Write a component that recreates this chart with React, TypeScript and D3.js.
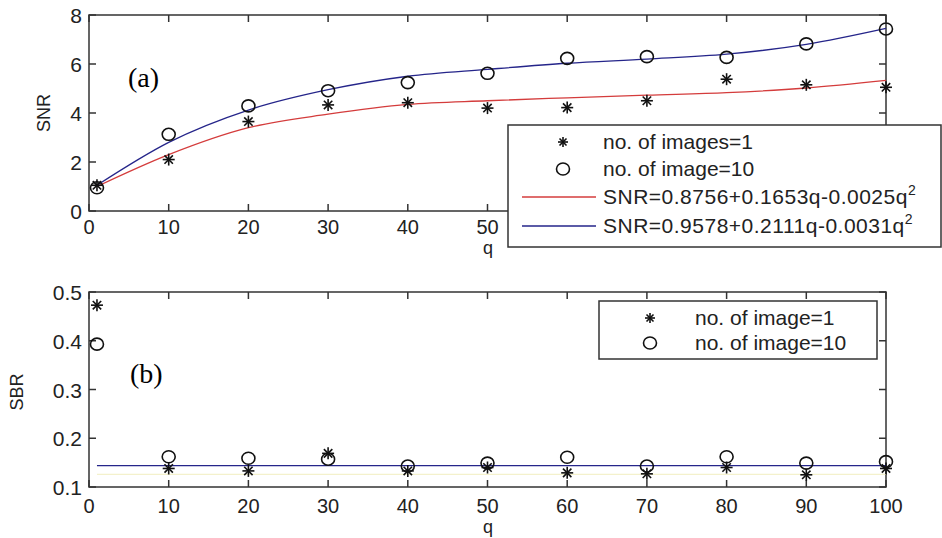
import React from 'react';
import * as d3 from 'd3';

// q values of the samples
const qValues = [1, 10, 20, 30, 40, 50, 60, 70, 80, 90, 100];

// (a) SNR
const snrImages1 = [1.05, 2.1, 3.65, 4.33, 4.42, 4.2, 4.22, 4.5, 5.38, 5.15, 5.05];
const snrImages10 = [0.95, 3.13, 4.29, 4.91, 5.24, 5.62, 6.23, 6.3, 6.27, 6.82, 7.43];
const snrFit1 = [1.0, 2.3, 3.4, 3.95, 4.35, 4.5, 4.62, 4.73, 4.83, 5.02, 5.33];
const snrFit10 = [1.05, 2.8, 4.12, 4.95, 5.5, 5.78, 6.03, 6.2, 6.4, 6.8, 7.45];

// (b) SBR
const sbrImages1 = [0.473, 0.138, 0.133, 0.169, 0.133, 0.14, 0.129, 0.127, 0.14, 0.125, 0.138];
const sbrImages10 = [0.393, 0.162, 0.159, 0.157, 0.143, 0.149, 0.161, 0.143, 0.162, 0.149, 0.152];
const sbrFitQ = [1, 100];
const sbrFit = [0.144, 0.144];
const sbrFaint = [0.126, 0.126];

const xTicks = [0, 10, 20, 30, 40, 50, 60, 70, 80, 90, 100];
const snrTicks = [0, 2, 4, 6, 8];
const sbrTicks = [0.1, 0.2, 0.3, 0.4, 0.5];

const legendA = ['no. of images=1', 'no. of image=10'];
const legendB = ['no. of image=1', 'no. of image=10'];

const FONT = '"Liberation Sans", Arial, sans-serif';
const SERIF = '"Liberation Serif", "Times New Roman", serif';
const AXIS = '#333';
const RED = '#d43c3c';
const BLUE = '#25258a';

const Star = ({ x, y, r = 6 }: { x: number; y: number; r?: number }) => (
  <g stroke="#111" strokeWidth={1.6}>
    <line x1={x - r} y1={y} x2={x + r} y2={y} />
    <line x1={x} y1={y - r} x2={x} y2={y + r} />
    <line x1={x - r * 0.7} y1={y - r * 0.7} x2={x + r * 0.7} y2={y + r * 0.7} />
    <line x1={x - r * 0.7} y1={y + r * 0.7} x2={x + r * 0.7} y2={y - r * 0.7} />
  </g>
);

const Ring = ({ x, y }: { x: number; y: number }) => (
  <ellipse cx={x} cy={y} rx={6.5} ry={6} fill="none" stroke="#111" strokeWidth={1.6} />
);

const left = 89;
const right = 886;

const Frame = ({ x, y, yTicks, fmt }: any) => {
  const [y0, y1] = y.range();
  return (
    <g>
      <rect x={left} y={y1} width={right - left} height={y0 - y1} fill="white" stroke={AXIS} strokeWidth={1.5} />
      {xTicks.map(t => (
        <g key={'x' + t} stroke={AXIS} strokeWidth={1.5}>
          <line x1={x(t)} x2={x(t)} y1={y0} y2={y0 - 7} />
          <line x1={x(t)} x2={x(t)} y1={y1} y2={y1 + 7} />
        </g>
      ))}
      {yTicks.map((t: number) => (
        <g key={'y' + t}>
          <line x1={left} x2={left + 7} y1={y(t)} y2={y(t)} stroke={AXIS} strokeWidth={1.5} />
          <line x1={right} x2={right - 7} y1={y(t)} y2={y(t)} stroke={AXIS} strokeWidth={1.5} />
          <text x={82} y={y(t) + 8} textAnchor="end" fontFamily={FONT} fontSize={21} fill="#222">{fmt(t)}</text>
        </g>
      ))}
    </g>
  );
};

export default function App() {
  const x = d3.scaleLinear().domain([0, 100]).range([left, right]);
  const yA = d3.scaleLinear().domain([0, 8]).range([211, 15]);
  const yB = d3.scaleLinear().domain([0.1, 0.5]).range([487, 292]);

  const lineA = (vals: number[]) =>
    d3.line<number>().x((_, i) => x(qValues[i])).y(v => yA(v)).curve(d3.curveMonotoneX)(vals) || '';
  const lineB = (vals: number[]) =>
    d3.line<number>().x((_, i) => x(sbrFitQ[i])).y(v => yB(v))(vals) || '';

  // legend (a) hides the tick labels from 60 on
  const legendALeft = 508;
  const visibleTopTicks = xTicks.filter(t => x(t) + 12 < legendALeft);

  return (
    <svg width={942} height={538} style={{ position: 'absolute', left: 0, top: 0, background: 'white' }}>
      {/* (a) */}
      <Frame x={x} y={yA} yTicks={snrTicks} fmt={(t: number) => String(t)} />
      {visibleTopTicks.map(t => (
        <text key={'xa' + t} x={x(t)} y={234} textAnchor="middle" fontFamily={FONT} fontSize={20} fill="#222">{t}</text>
      ))}
      <path d={lineA(snrFit1)} fill="none" stroke={RED} strokeWidth={1.3} />
      <path d={lineA(snrFit10)} fill="none" stroke={BLUE} strokeWidth={1.3} />
      {snrImages1.map((v, i) => <Star key={'sa' + i} x={x(qValues[i])} y={yA(v)} />)}
      {snrImages10.map((v, i) => <Ring key={'ra' + i} x={x(qValues[i])} y={yA(v)} />)}
      <text x={128} y={87} fontFamily={SERIF} fontSize={28}>(a)</text>
      <text transform="translate(50,113) rotate(-90)" textAnchor="middle" fontFamily={FONT} fontSize={18} fill="#222">SNR</text>
      <text x={488} y={254} textAnchor="middle" fontFamily={FONT} fontSize={18} fill="#222">q</text>

      {/* legend (a) */}
      <g fontFamily={FONT} fontSize={21} fill="#222">
        <rect x={legendALeft} y={125} width={433} height={122} fill="white" stroke={AXIS} strokeWidth={1.5} />
        <Star x={563} y={142} r={5} />
        <Ring x={563} y={169} />
        <line x1={522} x2={596} y1={197} y2={197} stroke={RED} strokeWidth={1.3} />
        <line x1={522} x2={596} y1={226} y2={226} stroke={BLUE} strokeWidth={1.3} />
        <text x={603} y={149}>{legendA[0]}</text>
        <text x={603} y={176}>{legendA[1]}</text>
        <text x={603} y={204} letterSpacing={0.5}>SNR=0.8756+0.1653q-0.0025q<tspan dy={-9} fontSize={14}>2</tspan></text>
        <text x={603} y={233} letterSpacing={0.5}>SNR=0.9578+0.2111q-0.0031q<tspan dy={-9} fontSize={14}>2</tspan></text>
      </g>

      {/* (b) */}
      <Frame x={x} y={yB} yTicks={sbrTicks} fmt={(t: number) => t.toFixed(1)} />
      {xTicks.map(t => (
        <text key={'xb' + t} x={x(t)} y={513} textAnchor="middle" fontFamily={FONT} fontSize={20} fill="#222">{t}</text>
      ))}
      <path d={lineB(sbrFaint)} fill="none" stroke="#f4f1cc" strokeWidth={1.3} />
      <path d={lineB(sbrFit)} fill="none" stroke={BLUE} strokeWidth={1.3} />
      {sbrImages1.map((v, i) => <Star key={'sb' + i} x={x(qValues[i])} y={yB(v)} />)}
      {sbrImages10.map((v, i) => <Ring key={'rb' + i} x={x(qValues[i])} y={yB(v)} />)}
      <text x={130} y={383} fontFamily={SERIF} fontSize={28}>(b)</text>
      <text transform="translate(23,392) rotate(-90)" textAnchor="middle" fontFamily={FONT} fontSize={18} fill="#222">SBR</text>
      <text x={488} y={533} textAnchor="middle" fontFamily={FONT} fontSize={18} fill="#222">q</text>

      {/* legend (b) */}
      <g fontFamily={FONT} fontSize={21} fill="#222">
        <rect x={599} y={301} width={278} height={58} fill="white" stroke={AXIS} strokeWidth={1.5} />
        <Star x={650} y={318} r={5} />
        <Ring x={650} y={343} />
        <text x={695} y={325}>{legendB[0]}</text>
        <text x={695} y={350}>{legendB[1]}</text>
      </g>
    </svg>
  );
}
